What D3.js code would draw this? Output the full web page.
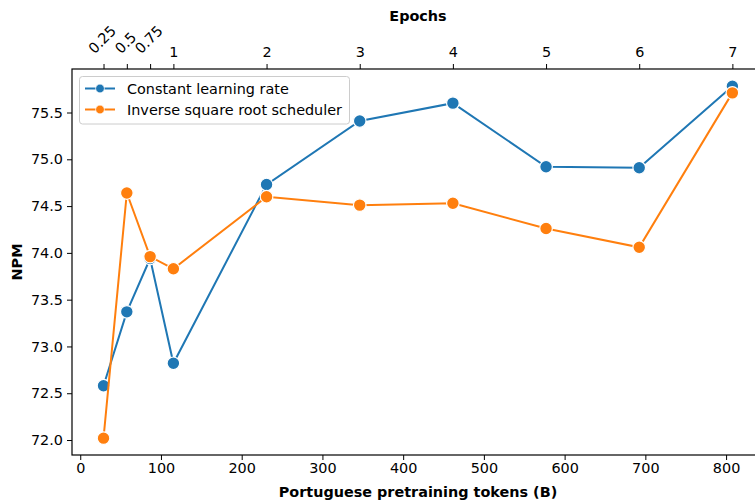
<!DOCTYPE html>
<html><head><meta charset="utf-8">
<script src="https://cdn.jsdelivr.net/npm/d3@7"></script>
<style>body{margin:0;background:#fff}svg{font-family:"DejaVu Sans",sans-serif}</style>
</head><body><svg id="c" width="755" height="503"></svg>
<script>
const epochs = [0.25, 0.5, 0.75, 1, 2, 3, 4, 5, 6, 7];
const epochLabels = ["0.25", "0.5", "0.75", "1", "2", "3", "4", "5", "6", "7"];
const tokens = [28.85, 57.7, 86.55, 115.4, 230.8, 346.2, 461.6, 577, 692.4, 807.8];
const constantLR = [72.58, 73.37, 73.94, 72.82, 74.73, 75.41, 75.60, 74.92, 74.91, 75.78];
const invSqrt = [72.02, 74.64, 73.96, 73.83, 74.60, 74.51, 74.53, 74.26, 74.06, 75.71];
const xTicks = [0, 100, 200, 300, 400, 500, 600, 700, 800];
const yTicks = [72.0, 72.5, 73.0, 73.5, 74.0, 74.5, 75.0, 75.5];
const seriesNames = ["Constant learning rate", "Inverse square root scheduler"];
const colors = ["#1f77b4", "#ff7f0e"];

const FS = 14.4;
const L = 72, R = 757, T = 69, B = 455;
const svg = d3.select("#c");
const x = d3.scaleLinear().domain([-10.2, 838.3]).range([L, R]);
const y = d3.scaleLinear().domain([71.84, 75.965]).range([B, T]);

// frame
svg.append("rect").attr("x", L).attr("y", T).attr("width", R - L).attr("height", B - T)
  .attr("fill", "none").attr("stroke", "#000").attr("stroke-width", 1.2);

const fmtY = d3.format(".1f");
const ax = svg.append("g").attr("transform", `translate(0,${B})`)
  .call(d3.axisBottom(x).tickValues(xTicks).tickSize(5).tickPadding(3));
const ay = svg.append("g").attr("transform", `translate(${L},0)`)
  .call(d3.axisLeft(y).tickValues(yTicks).tickFormat(fmtY).tickSize(5).tickPadding(4));
const at = svg.append("g").attr("transform", `translate(0,${T})`)
  .call(d3.axisTop(x).tickValues(tokens).tickFormat((d, i) => epochLabels[i]).tickSize(5).tickPadding(7));
[ax, ay, at].forEach(g => {
  g.select(".domain").remove();
  g.selectAll(".tick line").attr("stroke", "#000").attr("stroke-width", 1);
  g.selectAll(".tick text").attr("font-size", FS).attr("fill", "#000").attr("font-family", "DejaVu Sans");
});
at.selectAll(".tick text").each(function (d, i) {
  if (i < 3) {
    const t = d3.select(this).attr("text-anchor", "start").attr("dy", null).attr("x", 0).attr("y", 0);
    const w = this.getComputedTextLength();
    const asc = 0.73 * FS;
    const sx = -2 - (w - asc) / (2 * Math.SQRT2);
    t.attr("transform", `translate(${sx},-14.5) rotate(-45)`);
  }
});

// axis titles
svg.append("text").attr("x", 418).attr("y", 21).attr("text-anchor", "middle")
  .attr("font-weight", "bold").attr("font-size", FS).text("Epochs");
svg.append("text").attr("x", 418).attr("y", 497).attr("text-anchor", "middle")
  .attr("font-weight", "bold").attr("font-size", FS).text("Portuguese pretraining tokens (B)");
svg.append("text").attr("transform", `translate(22,${(T + B) / 2}) rotate(-90)`).attr("text-anchor", "middle")
  .attr("font-weight", "bold").attr("font-size", FS).text("NPM");

const series = [constantLR, invSqrt];
const line = d3.line().x(d => x(d[0])).y(d => y(d[1]));
series.forEach((vals, s) => {
  const pts = tokens.map((t, i) => [t, vals[i]]);
  const g = svg.append("g");
  g.append("path").datum(pts).attr("d", line).attr("fill", "none")
    .attr("stroke", colors[s]).attr("stroke-width", 2);
  g.selectAll("circle").data(pts).join("circle")
    .attr("cx", d => x(d[0])).attr("cy", d => y(d[1])).attr("r", 6.3)
    .attr("fill", colors[s]).attr("stroke", "#fff").attr("stroke-width", 1.2);
});

// legend
const lg = svg.append("g");
lg.append("rect").attr("x", 79.5).attr("y", 76.5).attr("width", 270).attr("height", 47.5).attr("rx", 3)
  .attr("fill", "#fff").attr("fill-opacity", 0.8).attr("stroke", "#ccc").attr("stroke-width", 1);
seriesNames.forEach((n, i) => {
  const yy = 88.5 + i * 21;
  lg.append("line").attr("x1", 85).attr("x2", 115).attr("y1", yy).attr("y2", yy)
    .attr("stroke", colors[i]).attr("stroke-width", 2);
  lg.append("circle").attr("cx", 100).attr("cy", yy).attr("r", 4.4).attr("fill", colors[i])
    .attr("stroke", "#fff").attr("stroke-width", 0.8);
  lg.append("text").attr("x", 127).attr("y", yy + 5).attr("font-size", FS).text(n);
});
</script></body></html>
